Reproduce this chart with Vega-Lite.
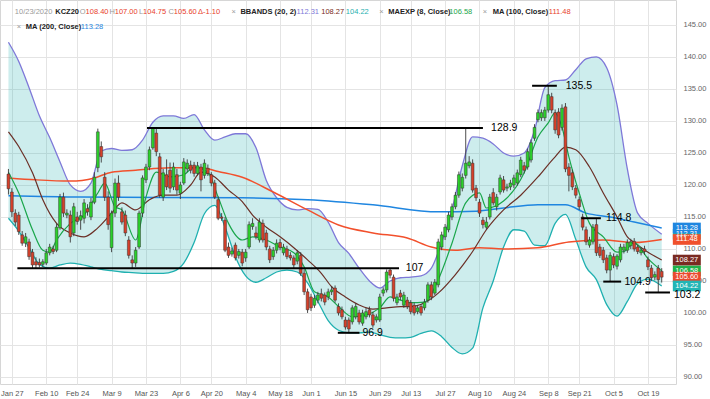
{
"$schema":"https://vega.github.io/schema/vega-lite/v6.json",
"width":676,"height":384,"autosize":"none",
"padding":{"left":0,"top":0,"right":34,"bottom":15},
"background":"white",
"config":{"font":"Liberation Sans","view":{"stroke":"#d6d6d6"},"axis":{"gridColor":"#e4e4e4","gridWidth":1,"domain":false,"ticks":false,"labelFontSize":7.5,"labelColor":"#666","labelOverlap":false,"tickCount":30}},
"datasets":{
"candles":[
{"i":-1,"o":121.7,"h":122.5,"l":118.5,"c":119.4},{"i":0,"o":118.9,"h":119.5,"l":115.0,"c":115.8},{"i":1,"o":115.6,"h":116.2,"l":113.6,"c":114.2},{"i":2,"o":115.3,"h":115.8,"l":112.2,"c":112.7},{"i":3,"o":112.2,"h":112.8,"l":110.5,"c":110.9},{"i":4,"o":110.9,"h":112.5,"l":110.3,"c":111.9},{"i":5,"o":111.1,"h":111.6,"l":108.3,"c":108.8},{"i":6,"o":109.5,"h":110.0,"l":107.0,"c":107.5},{"i":7,"o":108.0,"h":108.7,"l":107.0,"c":107.5},{"i":8,"o":107.9,"h":108.5,"l":107.1,"c":107.5},{"i":9,"o":107.6,"h":108.4,"l":107.2,"c":108.0},{"i":10,"o":107.8,"h":110.0,"l":107.5,"c":109.4},{"i":11,"o":109.4,"h":110.8,"l":109.0,"c":110.3},{"i":12,"o":110.0,"h":110.5,"l":109.2,"c":109.6},{"i":13,"o":109.8,"h":114.0,"l":109.5,"c":113.4},{"i":14,"o":113.3,"h":118.6,"l":113.0,"c":118.1},{"i":15,"o":118.1,"h":118.8,"l":115.0,"c":115.6},{"i":16,"o":115.3,"h":116.2,"l":114.8,"c":115.6},{"i":17,"o":115.3,"h":116.0,"l":111.0,"c":111.9},{"i":18,"o":112.5,"h":117.2,"l":112.0,"c":116.6},{"i":19,"o":115.0,"h":115.8,"l":113.8,"c":114.3},{"i":20,"o":114.5,"h":116.0,"l":113.0,"c":115.2},{"i":21,"o":114.8,"h":117.8,"l":114.0,"c":117.2},{"i":22,"o":116.3,"h":117.0,"l":115.2,"c":115.8},{"i":23,"o":115.0,"h":118.0,"l":114.5,"c":117.3},{"i":24,"o":117.3,"h":122.0,"l":117.0,"c":121.2},{"i":25,"o":122.7,"h":128.8,"l":122.0,"c":128.3},{"i":26,"o":126.0,"h":126.8,"l":123.5,"c":124.4},{"i":27,"o":121.2,"h":122.0,"l":117.5,"c":118.1},{"i":28,"o":118.1,"h":119.0,"l":113.0,"c":113.8},{"i":29,"o":110.2,"h":116.0,"l":109.5,"c":115.6},{"i":30,"o":115.6,"h":121.0,"l":115.0,"c":120.3},{"i":31,"o":120.3,"h":121.5,"l":117.5,"c":118.1},{"i":32,"o":115.8,"h":116.5,"l":113.8,"c":114.2},{"i":33,"o":115.3,"h":116.0,"l":112.0,"c":112.5},{"i":34,"o":111.4,"h":112.0,"l":108.5,"c":109.0},{"i":35,"o":108.3,"h":109.0,"l":107.0,"c":107.8},{"i":36,"o":107.8,"h":110.3,"l":107.2,"c":109.8},{"i":37,"o":110.3,"h":116.0,"l":110.0,"c":115.6},{"i":38,"o":115.6,"h":121.5,"l":115.0,"c":121.1},{"i":39,"o":120.8,"h":123.3,"l":120.3,"c":122.8},{"i":40,"o":122.8,"h":126.0,"l":122.3,"c":125.5},{"i":41,"o":125.8,"h":129.0,"l":125.5,"c":128.9},{"i":42,"o":128.1,"h":128.9,"l":124.5,"c":125.2},{"i":43,"o":124.4,"h":125.0,"l":118.0,"c":118.4},{"i":44,"o":118.1,"h":122.5,"l":117.5,"c":121.9},{"i":45,"o":121.6,"h":124.0,"l":119.2,"c":119.7},{"i":46,"o":122.3,"h":123.5,"l":118.8,"c":119.5},{"i":47,"o":119.7,"h":123.5,"l":119.2,"c":122.8},{"i":48,"o":121.6,"h":122.5,"l":118.5,"c":119.2},{"i":49,"o":118.7,"h":120.5,"l":117.8,"c":120.0},{"i":50,"o":120.3,"h":124.2,"l":120.0,"c":123.6},{"i":51,"o":122.5,"h":124.0,"l":122.0,"c":123.4},{"i":52,"o":123.1,"h":123.8,"l":121.8,"c":122.3},{"i":53,"o":123.1,"h":123.6,"l":121.3,"c":121.8},{"i":54,"o":121.8,"h":123.6,"l":121.5,"c":123.0},{"i":55,"o":122.8,"h":123.3,"l":119.0,"c":120.8},{"i":56,"o":121.5,"h":124.0,"l":121.0,"c":123.4},{"i":57,"o":122.6,"h":123.2,"l":121.4,"c":121.8},{"i":58,"o":121.6,"h":122.0,"l":119.8,"c":120.3},{"i":59,"o":120.3,"h":120.8,"l":117.8,"c":118.1},{"i":60,"o":117.7,"h":118.2,"l":114.5,"c":114.8},{"i":61,"o":115.0,"h":115.6,"l":114.4,"c":114.8},{"i":62,"o":114.5,"h":115.0,"l":109.5,"c":109.8},{"i":63,"o":110.3,"h":111.0,"l":108.6,"c":109.0},{"i":64,"o":109.2,"h":110.2,"l":108.8,"c":109.7},{"i":65,"o":110.6,"h":111.0,"l":108.2,"c":108.6},{"i":66,"o":109.0,"h":110.0,"l":108.5,"c":109.6},
{"i":67,"o":109.5,"h":110.0,"l":107.3,"c":107.8},{"i":68,"o":108.6,"h":110.0,"l":108.0,"c":109.5},{"i":69,"o":110.3,"h":114.3,"l":110.0,"c":113.8},{"i":70,"o":113.5,"h":114.8,"l":113.0,"c":114.0},{"i":71,"o":112.5,"h":113.5,"l":111.5,"c":111.9},{"i":72,"o":111.4,"h":114.8,"l":111.0,"c":114.2},{"i":73,"o":114.0,"h":114.6,"l":111.0,"c":111.4},{"i":74,"o":112.5,"h":113.0,"l":109.8,"c":110.3},{"i":75,"o":110.0,"h":110.5,"l":107.8,"c":108.3},{"i":76,"o":108.8,"h":110.3,"l":108.3,"c":109.8},{"i":77,"o":109.8,"h":111.5,"l":109.3,"c":110.9},{"i":78,"o":111.0,"h":111.6,"l":109.8,"c":110.2},{"i":79,"o":109.4,"h":110.8,"l":109.0,"c":110.3},{"i":80,"o":110.0,"h":110.5,"l":108.4,"c":108.8},{"i":81,"o":109.0,"h":109.5,"l":108.2,"c":108.6},{"i":82,"o":108.6,"h":109.0,"l":107.0,"c":107.5},{"i":83,"o":108.1,"h":109.8,"l":107.6,"c":109.4},{"i":84,"o":109.0,"h":109.5,"l":105.8,"c":106.2},{"i":85,"o":106.2,"h":106.8,"l":102.8,"c":103.3},{"i":86,"o":103.3,"h":103.8,"l":100.0,"c":100.5},{"i":87,"o":102.5,"h":103.0,"l":100.3,"c":100.8},{"i":88,"o":101.2,"h":102.8,"l":100.8,"c":102.3},{"i":89,"o":102.0,"h":103.3,"l":101.5,"c":102.8},{"i":90,"o":103.0,"h":103.8,"l":101.8,"c":102.3},{"i":91,"o":102.8,"h":103.2,"l":101.2,"c":101.7},{"i":92,"o":102.5,"h":103.8,"l":102.0,"c":103.3},{"i":93,"o":103.3,"h":104.2,"l":102.8,"c":103.6},{"i":94,"o":103.9,"h":104.3,"l":101.6,"c":102.0},{"i":95,"o":101.0,"h":101.5,"l":99.6,"c":100.0},{"i":96,"o":100.5,"h":101.0,"l":99.0,"c":99.4},{"i":97,"o":98.9,"h":99.4,"l":97.4,"c":97.8},{"i":98,"o":98.9,"h":99.3,"l":96.9,"c":97.5},{"i":99,"o":98.6,"h":101.2,"l":98.2,"c":100.8},{"i":100,"o":99.4,"h":101.5,"l":99.0,"c":101.0},{"i":101,"o":100.0,"h":100.5,"l":98.2,"c":98.6},{"i":102,"o":98.4,"h":100.5,"l":98.0,"c":100.0},{"i":103,"o":99.4,"h":100.8,"l":99.0,"c":100.2},{"i":104,"o":100.5,"h":101.0,"l":99.3,"c":99.7},{"i":105,"o":99.7,"h":100.2,"l":97.7,"c":98.1},{"i":106,"o":98.9,"h":99.8,"l":98.5,"c":99.4},{"i":107,"o":98.9,"h":103.0,"l":98.6,"c":102.5},{"i":108,"o":103.1,"h":104.0,"l":102.6,"c":103.6},{"i":109,"o":103.6,"h":106.8,"l":103.2,"c":106.4},{"i":110,"o":106.7,"h":107.0,"l":105.4,"c":105.9},{"i":111,"o":105.6,"h":106.0,"l":101.8,"c":102.3},{"i":112,"o":101.6,"h":103.0,"l":101.2,"c":102.5},{"i":113,"o":103.1,"h":103.6,"l":102.0,"c":102.5},{"i":114,"o":101.2,"h":103.3,"l":100.8,"c":102.8},{"i":115,"o":102.0,"h":102.5,"l":100.6,"c":101.0},{"i":116,"o":101.6,"h":102.0,"l":99.8,"c":100.2},{"i":117,"o":101.2,"h":101.6,"l":99.6,"c":100.0},{"i":118,"o":100.2,"h":101.2,"l":99.8,"c":100.8},{"i":119,"o":101.0,"h":101.4,"l":99.6,"c":100.0},{"i":120,"o":100.8,"h":102.2,"l":100.4,"c":101.7},{"i":121,"o":102.0,"h":104.8,"l":101.6,"c":104.4},{"i":122,"o":104.4,"h":104.9,"l":102.0,"c":102.5},{"i":123,"o":103.1,"h":105.3,"l":102.8,"c":104.8},
{"i":124,"o":104.4,"h":111.6,"l":104.0,"c":111.1},{"i":125,"o":110.3,"h":112.7,"l":109.8,"c":112.2},{"i":126,"o":111.9,"h":113.9,"l":111.4,"c":113.4},{"i":127,"o":113.0,"h":115.8,"l":112.6,"c":115.3},{"i":128,"o":115.0,"h":117.1,"l":114.5,"c":116.6},{"i":129,"o":116.6,"h":118.9,"l":116.2,"c":118.4},{"i":130,"o":118.4,"h":122.1,"l":118.0,"c":121.6},{"i":131,"o":119.5,"h":121.8,"l":119.0,"c":121.2},{"i":132,"o":121.5,"h":128.9,"l":121.0,"c":123.4},{"i":133,"o":123.0,"h":124.5,"l":122.6,"c":123.6},{"i":134,"o":123.4,"h":124.0,"l":118.8,"c":119.2},{"i":135,"o":119.5,"h":120.0,"l":117.5,"c":118.0},{"i":136,"o":117.3,"h":117.8,"l":115.0,"c":115.6},{"i":137,"o":114.5,"h":115.0,"l":113.2,"c":113.8},{"i":138,"o":113.4,"h":115.0,"l":113.0,"c":114.2},{"i":139,"o":115.0,"h":118.6,"l":114.6,"c":118.1},{"i":140,"o":118.8,"h":119.5,"l":116.8,"c":117.2},{"i":141,"o":116.6,"h":118.6,"l":116.0,"c":118.1},{"i":142,"o":118.9,"h":121.6,"l":118.5,"c":121.1},{"i":143,"o":120.8,"h":121.4,"l":118.8,"c":119.2},{"i":144,"o":119.5,"h":120.2,"l":119.0,"c":119.7},{"i":145,"o":119.7,"h":120.8,"l":119.2,"c":120.3},{"i":146,"o":120.0,"h":121.6,"l":119.5,"c":121.1},{"i":147,"o":120.3,"h":122.4,"l":119.9,"c":121.9},{"i":148,"o":121.6,"h":124.4,"l":121.2,"c":123.9},{"i":149,"o":123.0,"h":123.6,"l":121.8,"c":122.3},{"i":150,"o":122.8,"h":125.7,"l":122.4,"c":125.2},{"i":151,"o":123.9,"h":127.1,"l":123.5,"c":126.6},{"i":152,"o":127.3,"h":129.5,"l":126.9,"c":129.0},{"i":153,"o":130.2,"h":131.8,"l":129.8,"c":131.3},{"i":154,"o":130.5,"h":131.8,"l":130.0,"c":131.3},{"i":155,"o":130.5,"h":132.2,"l":130.0,"c":131.7},{"i":156,"o":131.7,"h":135.5,"l":131.3,"c":134.1},{"i":157,"o":133.8,"h":134.4,"l":131.2,"c":131.7},{"i":158,"o":131.3,"h":131.8,"l":128.0,"c":128.6},{"i":159,"o":131.4,"h":132.0,"l":127.3,"c":127.8},{"i":160,"o":129.0,"h":132.6,"l":128.5,"c":132.0},{"i":161,"o":132.2,"h":132.8,"l":122.0,"c":122.5},{"i":162,"o":122.8,"h":123.4,"l":119.0,"c":121.5},{"i":163,"o":121.9,"h":122.4,"l":119.2,"c":119.7},{"i":164,"o":119.5,"h":120.0,"l":117.9,"c":118.4},{"i":165,"o":117.7,"h":118.2,"l":116.1,"c":116.6},{"i":166,"o":115.0,"h":115.5,"l":112.9,"c":113.4},{"i":167,"o":113.0,"h":113.5,"l":110.6,"c":111.1},{"i":168,"o":110.6,"h":111.9,"l":110.2,"c":111.4},{"i":169,"o":111.1,"h":113.9,"l":110.7,"c":113.4},{"i":170,"o":113.8,"h":114.8,"l":108.9,"c":109.4},{"i":171,"o":110.3,"h":110.8,"l":108.6,"c":109.0},{"i":172,"o":109.8,"h":110.3,"l":107.8,"c":108.3},{"i":173,"o":108.6,"h":109.1,"l":106.2,"c":106.7},{"i":174,"o":106.7,"h":109.5,"l":104.9,"c":109.0},{"i":175,"o":108.8,"h":109.3,"l":107.0,"c":107.5},{"i":176,"o":107.3,"h":109.2,"l":106.8,"c":108.9},{"i":177,"o":108.3,"h":110.8,"l":107.9,"c":110.3},{"i":178,"o":109.8,"h":110.8,"l":109.3,"c":110.3},{"i":179,"o":109.8,"h":111.5,"l":109.4,"c":111.0},{"i":180,"o":110.5,"h":111.6,"l":110.0,"c":111.1},{"i":181,"o":111.2,"h":111.7,"l":109.6,"c":110.0},{"i":182,"o":110.3,"h":110.6,"l":109.2,"c":109.6},{"i":183,"o":109.4,"h":110.3,"l":109.0,"c":109.8},{"i":184,"o":110.0,"h":110.5,"l":109.1,"c":109.6},{"i":185,"o":108.3,"h":108.8,"l":106.7,"c":107.2},{"i":186,"o":107.0,"h":107.5,"l":105.0,"c":105.5},{"i":187,"o":105.6,"h":106.5,"l":105.1,"c":106.0},{"i":188,"o":107.0,"h":107.5,"l":103.2,"c":105.2},{"i":189,"o":106.5,"h":107.0,"l":104.75,"c":105.6}
],
"band":[
{"i":-1,"up":142.3,"lo":114.8},{"i":2,"up":139.3,"lo":112.8},{"i":5,"up":135.2,"lo":110.2},{"i":8,"up":130.8,"lo":107.6},{"i":11,"up":127.4,"lo":107.0},{"i":14,"up":123.6,"lo":107.5},{"i":17,"up":120.0,"lo":107.8},{"i":20,"up":119.0,"lo":107.6},{"i":23,"up":120.3,"lo":107.2},{"i":26,"up":125.3,"lo":106.8},{"i":29,"up":125.7,"lo":106.6},{"i":32,"up":125.4,"lo":106.4},{"i":35,"up":125.5,"lo":106.3},{"i":38,"up":127.0,"lo":106.2},{"i":41,"up":129.8,"lo":106.2},{"i":44,"up":130.8,"lo":106.2},{"i":47,"up":130.8,"lo":106.5},{"i":50,"up":130.4,"lo":107.8},{"i":53,"up":131.0,"lo":111.0},{"i":56,"up":128.6,"lo":115.5},{"i":59,"up":127.0,"lo":116.8},{"i":62,"up":127.5,"lo":113.4},{"i":65,"up":128.0,"lo":108.8},{"i":68,"up":128.0,"lo":105.8},{"i":71,"up":125.8,"lo":104.8},{"i":74,"up":120.7,"lo":105.5},{"i":77,"up":118.0,"lo":106.4},{"i":80,"up":116.5,"lo":106.7},{"i":83,"up":116.1,"lo":106.4},{"i":86,"up":116.3,"lo":104.7},{"i":89,"up":116.2,"lo":101.8},{"i":92,"up":114.2,"lo":98.8},{"i":95,"up":111.0,"lo":97.3},{"i":98,"up":109.3,"lo":96.9},{"i":101,"up":107.0,"lo":96.9},{"i":104,"up":105.0,"lo":97.0},{"i":107,"up":103.9,"lo":96.6},{"i":110,"up":105.0,"lo":96.2},{"i":113,"up":105.5,"lo":96.1},{"i":116,"up":105.6,"lo":96.2},{"i":119,"up":105.8,"lo":96.8},{"i":122,"up":107.0,"lo":97.2},{"i":125,"up":111.0,"lo":96.3},{"i":128,"up":116.1,"lo":94.6},{"i":131,"up":123.0,"lo":93.6},{"i":134,"up":127.5,"lo":94.5},{"i":137,"up":127.3,"lo":100.8},{"i":140,"up":126.4,"lo":105.0},{"i":143,"up":125.0,"lo":110.3},{"i":146,"up":124.5,"lo":113.0},{"i":149,"up":125.0,"lo":112.8},{"i":152,"up":128.5,"lo":110.6},{"i":155,"up":135.2,"lo":110.5},{"i":158,"up":136.3,"lo":114.0},{"i":161,"up":136.4,"lo":115.4},{"i":164,"up":138.0,"lo":111.5},{"i":167,"up":139.7,"lo":107.2},{"i":170,"up":140.0,"lo":105.2},{"i":173,"up":138.3,"lo":101.3},{"i":176,"up":132.5,"lo":99.5},{"i":179,"up":122.5,"lo":101.8},{"i":182,"up":115.6,"lo":104.6},{"i":185,"up":114.0,"lo":105.3},{"i":189,"up":112.31,"lo":104.22}
],
"mid":[{"i":-1,"v":128.3},{"i":2,"v":126},{"i":6,"v":121.9},{"i":9,"v":117.7},{"i":13,"v":114},{"i":17,"v":112.5},{"i":21,"v":111.9},{"i":25,"v":113.3},{"i":29,"v":115.6},{"i":32,"v":117.2},{"i":36,"v":116.1},{"i":40,"v":117.7},{"i":44,"v":118.4},{"i":48,"v":118.4},{"i":52,"v":120},{"i":55,"v":122},{"i":59,"v":121.25},{"i":63,"v":119.2},{"i":67,"v":117.4},{"i":70,"v":115.3},{"i":74,"v":113.4},{"i":78,"v":111.9},{"i":82,"v":110.2},{"i":86,"v":108.3},{"i":90,"v":106.2},{"i":93,"v":104.1},{"i":97,"v":102.5},{"i":101,"v":101.25},{"i":105,"v":100.6},{"i":109,"v":100.8},{"i":113,"v":101},{"i":116,"v":101},{"i":120,"v":101.6},{"i":124,"v":103.1},{"i":129,"v":106},{"i":134,"v":109.6},{"i":138,"v":113},{"i":143,"v":116.1},{"i":148,"v":118.4},{"i":153,"v":121.25},{"i":158,"v":124.4},{"i":161,"v":125.9},{"i":164,"v":125.5},{"i":168,"v":122.8},{"i":172,"v":118.75},{"i":176,"v":115},{"i":179,"v":111.9},{"i":181,"v":111},{"i":185,"v":109.5},{"i":189,"v":108.27}],
"ema":[{"i":-1,"v":122},{"i":2,"v":118.75},{"i":6,"v":113},{"i":9,"v":109.8},{"i":11,"v":109.5},{"i":13,"v":111.4},{"i":17,"v":114},{"i":21,"v":115.3},{"i":25,"v":118.75},{"i":27,"v":120.3},{"i":30,"v":116.6},{"i":32,"v":116.1},{"i":36,"v":111.4},{"i":39,"v":118.1},{"i":42,"v":122},{"i":46,"v":121.25},{"i":50,"v":121.6},{"i":53,"v":122.8},{"i":57,"v":122},{"i":60,"v":118.1},{"i":63,"v":114},{"i":67,"v":111.4},{"i":70,"v":111.9},{"i":74,"v":111.4},{"i":78,"v":110.3},{"i":82,"v":109.4},{"i":85,"v":107.2},{"i":88,"v":103.3},{"i":92,"v":102.5},{"i":95,"v":101},{"i":99,"v":99.4},{"i":103,"v":99.7},{"i":107,"v":100.8},{"i":110,"v":102.5},{"i":113,"v":102},{"i":116,"v":101.6},{"i":120,"v":101.7},{"i":124,"v":105.2},{"i":128,"v":110.9},{"i":132,"v":117.2},{"i":136,"v":118.75},{"i":138,"v":116.4},{"i":143,"v":117.5},{"i":149,"v":121.9},{"i":153,"v":127.5},{"i":156,"v":129.7},{"i":158,"v":131.25},{"i":160,"v":129},{"i":162,"v":124.4},{"i":165,"v":118.75},{"i":168,"v":114},{"i":172,"v":111.9},{"i":176,"v":109.5},{"i":178,"v":109.6},{"i":181,"v":111},{"i":185,"v":108.5},{"i":189,"v":106.58}],
"ma100":[{"i":-1,"v":121.1},{"i":7,"v":120.8},{"i":17,"v":120.6},{"i":24,"v":121.1},{"i":29,"v":122},{"i":36,"v":122.3},{"i":46,"v":122.7},{"i":55,"v":122.7},{"i":60,"v":122.1},{"i":67,"v":121.2},{"i":76,"v":118.9},{"i":86,"v":116.1},{"i":95,"v":113.75},{"i":105,"v":112.5},{"i":115,"v":111.7},{"i":122,"v":110.3},{"i":129,"v":109.8},{"i":136,"v":110.2},{"i":143,"v":110.0},{"i":153,"v":110.2},{"i":162,"v":111.1},{"i":172,"v":111.4},{"i":181,"v":111},{"i":189,"v":111.48}],
"ma200":[{"i":-1,"v":118.3},{"i":20,"v":118.1},{"i":67,"v":118.0},{"i":86,"v":117.7},{"i":105,"v":116.9},{"i":124,"v":115.8},{"i":135,"v":115.9},{"i":143,"v":116.4},{"i":153,"v":116.9},{"i":161,"v":116.9},{"i":167,"v":115.6},{"i":174,"v":115},{"i":181,"v":114.2},{"i":189,"v":113.28}],
"notes":[{"a":39.3,"b":137,"p":128.9,"lp":128.9,"t":"128.9","lx":138.8},{"a":1.6,"b":112.6,"p":107.0,"lp":107.0,"t":"107","lx":114.0},{"a":94.8,"b":101.1,"p":96.9,"lp":96.9,"t":"96.9","lx":101.4},{"a":151.3,"b":158.5,"p":135.5,"lp":135.5,"t":"135.5","lx":160.5},{"a":165.6,"b":171.3,"p":114.8,"lp":114.8,"t":"114.8","lx":172.2},{"a":172.0,"b":177.2,"p":104.9,"lp":104.9,"t":"104.9","lx":177.6},{"a":184.2,"b":191.4,"p":103.2,"lp":102.75,"t":"103.2","lx":192.0}],
"hdr":[{"i":0.86,"p":147.0,"t":"10/23/2020","k":"g"},{"i":19.77,"p":147.0,"t":"O","k":"g"},{"i":21.43,"p":147.0,"t":"108.40","k":"r"},{"i":28.37,"p":147.0,"t":"H","k":"g"},{"i":29.91,"p":147.0,"t":"107.00","k":"r"},{"i":36.96,"p":147.0,"t":"L","k":"g"},{"i":38.17,"p":147.0,"t":"104.75","k":"r"},{"i":45.56,"p":147.0,"t":"C","k":"g"},{"i":47.11,"p":147.0,"t":"105.60","k":"r"},{"i":54.15,"p":147.0,"t":"Δ-1.10","k":"r"},{"i":63.9,"p":147.0,"t":"×","k":"g"},{"i":82.81,"p":147.0,"t":"112.31","k":"pu"},{"i":89.97,"p":147.0,"t":"108.27","k":"br"},{"i":97.13,"p":147.0,"t":"104.22","k":"te"},{"i":106.88,"p":147.0,"t":"×","k":"g"},{"i":127.22,"p":147.0,"t":"106.58","k":"gr"},{"i":136.96,"p":147.0,"t":"×","k":"g"},{"i":156.16,"p":147.0,"t":"111.48","k":"r"},{"i":1.43,"p":144.68,"t":"×","k":"g"},{"i":20.06,"p":144.68,"t":"113.28","k":"bl"}],
"hdrb":[{"i":12.61,"p":147.0,"t":"KCZ20"},{"i":66.48,"p":147.0,"t":"BBANDS (20, 2)"},{"i":109.46,"p":147.0,"t":"MAEXP (8, Close)"},{"i":139.83,"p":147.0,"t":"MA (100, Close)"},{"i":4.01,"p":144.68,"t":"MA (200, Close)"}],
"tags":[{"p":112.31,"t":"112.31","k":"up"},{"p":106.58,"t":"106.58","k":"ema"},{"p":113.28,"t":"113.28","k":"ma200"},{"p":111.48,"t":"111.48","k":"ma100"},{"p":108.27,"t":"108.27","k":"mid"},{"p":105.60,"t":"105.60","k":"close"},{"p":104.22,"t":"104.22","k":"lo"}]
},
"layer":[
{"data":{"name":"band"},"mark":{"type":"area","interpolate":"monotone","color":"#2eb2b2","opacity":0.24},"encoding":{
"x":{"field":"i","type":"quantitative","scale":{"domain":[-2,191.7],"nice":false,"zero":false},"axis":{"title":null,"orient":"bottom","tickCount":30,"values":[0,10,19,29,39,49,58,68,78,87,97,107,116,126,136,146,156,165,175,185],"labelExpr":"['Jan 27','Feb 10','Feb 24','Mar 9','Mar 23','Apr 6','Apr 20','May 4','May 18','Jun 1','Jun 15','Jun 29','Jul 13','Jul 27','Aug 10','Aug 24','Sep 8','Sep 21','Oct 5','Oct 19'][indexof([0,10,19,29,39,49,58,68,78,87,97,107,116,126,136,146,156,165,175,185], datum.value)]","labelFlush":false,"labelOverlap":false,"labelPadding":5,"labelColor":"#555","grid":true}},
"y":{"field":"up","type":"quantitative","scale":{"domain":[88.9,148.9],"nice":false,"zero":false},"axis":{"title":null,"orient":"right","tickCount":30,"values":[90,95,100,105,110,115,120,125,130,135,140,145],"format":".2f","labelPadding":7,"labelOverlap":false,"grid":true}},"y2":{"field":"lo"}}},
{"data":{"name":"band"},"mark":{"type":"line","interpolate":"monotone","color":"#7e78d8","strokeWidth":1.3},"encoding":{"x":{"field":"i","type":"quantitative","title":null},"y":{"field":"up","type":"quantitative","title":null}}},
{"data":{"name":"band"},"mark":{"type":"line","interpolate":"monotone","color":"#1fb0b0","strokeWidth":1.3},"encoding":{"x":{"field":"i","type":"quantitative","title":null},"y":{"field":"lo","type":"quantitative","title":null}}},
{"data":{"name":"ma200"},"mark":{"type":"line","interpolate":"monotone","color":"#1f86e0","strokeWidth":1.5},"encoding":{"x":{"field":"i","type":"quantitative","title":null},"y":{"field":"v","type":"quantitative","title":null}}},
{"data":{"name":"ma100"},"mark":{"type":"line","interpolate":"monotone","color":"#f2502c","strokeWidth":1.5},"encoding":{"x":{"field":"i","type":"quantitative","title":null},"y":{"field":"v","type":"quantitative","title":null}}},
{"data":{"name":"mid"},"mark":{"type":"line","interpolate":"monotone","color":"#6b2f26","strokeWidth":1.2},"encoding":{"x":{"field":"i","type":"quantitative","title":null},"y":{"field":"v","type":"quantitative","title":null}}},
{"data":{"name":"ema"},"mark":{"type":"line","interpolate":"monotone","color":"#1aa64b","strokeWidth":1.2},"encoding":{"x":{"field":"i","type":"quantitative","title":null},"y":{"field":"v","type":"quantitative","title":null}}},
{"data":{"name":"candles"},"mark":{"type":"rule","color":"#3a3a3a","strokeWidth":0.9},"encoding":{"x":{"field":"i","type":"quantitative","title":null},"y":{"field":"l","type":"quantitative","title":null},"y2":{"field":"h"}}},
{"data":{"name":"candles"},"mark":{"type":"bar","size":2.8,"stroke":"#333","strokeWidth":0.5},"encoding":{"x":{"field":"i","type":"quantitative","title":null},"y":{"field":"o","type":"quantitative","title":null},"y2":{"field":"c"},"color":{"condition":{"test":"datum.c >= datum.o","value":"#2bd12b"},"value":"#d6402a"}}},
{"data":{"name":"tags"},"mark":{"type":"point","filled":true,"opacity":1,"size":784,"shape":"M-1,-0.38H1V0.38H-1Z"},"encoding":{"x":{"datum":196.3},"y":{"field":"p","type":"quantitative","title":null},"fill":{"field":"k","type":"nominal","legend":null,"scale":{"domain":["up","ema","ma200","ma100","mid","close","lo"],"range":["#27b0a8","#21b24a","#1f86e0","#f0502c","#7a2a22","#ea4a2e","#22b5b5"]}}}},
{"data":{"name":"tags"},"mark":{"type":"text","align":"center","baseline":"middle","fontSize":7.5,"color":"white"},"encoding":{"x":{"datum":196.3},"y":{"field":"p","type":"quantitative","title":null},"text":{"field":"t"}}},
{"data":{"name":"notes"},"mark":{"type":"rule","color":"#000","strokeWidth":2},"encoding":{"x":{"field":"a","type":"quantitative","title":null},"x2":{"field":"b"},"y":{"field":"p","type":"quantitative","title":null}}},
{"data":{"name":"notes"},"mark":{"type":"text","align":"left","baseline":"middle","fontSize":10.5,"color":"#000","dx":2},"encoding":{"x":{"field":"lx","type":"quantitative","title":null},"y":{"field":"lp","type":"quantitative","title":null},"text":{"field":"t"}}},
{"data":{"name":"hdr"},"mark":{"type":"text","align":"left","baseline":"middle","fontSize":7.5},"encoding":{"x":{"field":"i","type":"quantitative","title":null},"y":{"field":"p","type":"quantitative","title":null},"text":{"field":"t"},"color":{"field":"k","type":"nominal","legend":null,"scale":{"domain":["g","r","pu","br","te","gr","bl"],"range":["#9a9a9a","#e8412c","#7e78d8","#7a2a22","#1fb0b0","#1aa64b","#1f86e0"]}}}},
{"data":{"name":"hdrb"},"mark":{"type":"text","align":"left","baseline":"middle","fontSize":7.5,"fontWeight":"bold","color":"#222"},"encoding":{"x":{"field":"i","type":"quantitative","title":null},"y":{"field":"p","type":"quantitative","title":null},"text":{"field":"t"}}}
]
}
